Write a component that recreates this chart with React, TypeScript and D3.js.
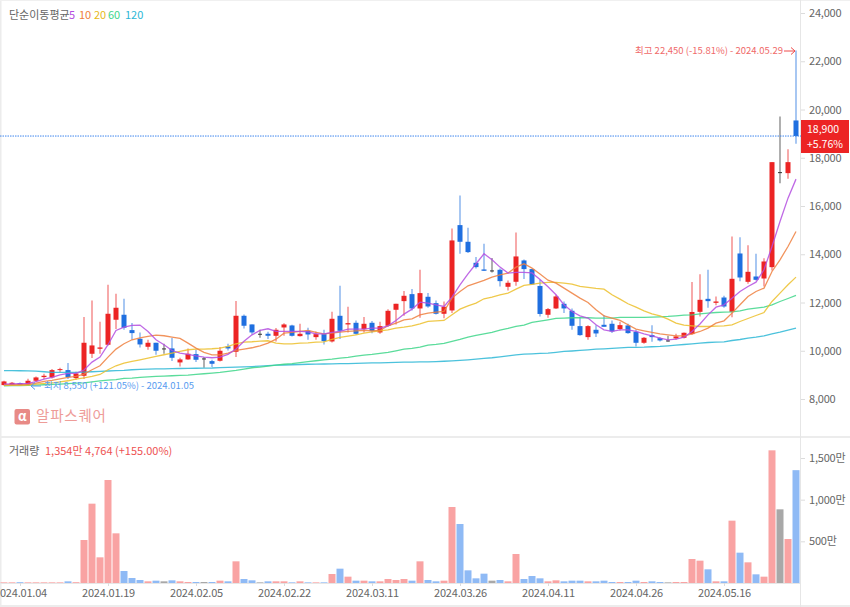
import React, { useEffect, useRef } from "react";
import * as d3 from "d3";

const tickDates = ["2024.01.04", "2024.01.19", "2024.02.05", "2024.02.22", "2024.03.11", "2024.03.26", "2024.04.11", "2024.04.26", "2024.05.16"];
const priceTicks = [8000, 10000, 12000, 14000, 16000, 18000, 20000, 22000, 24000];
const volumeTicks = [500, 1000, 1500];

const opens = [8576,8576,8659,8603,8756,8908,8894,9198,9198,8866,8963,9875,10082,10248,11285,11492,10856,10497,10165,10331,10096,10096,9516,9640,9861,9681,9571,9585,10179,9958,11450,11091,10704,10704,10620,10965,11048,10606,10827,10565,10689,10385,11449,11090,11159,10896,11159,10758,11034,11698,12057,12347,11753,12237,11974,11532,11670,15208,14517,13646,13370,13329,13356,12651,12859,13743,13384,12686,11491,11753,11947,11657,11021,10565,10869,11076,11118,10897,11049,10786,10330,10648,10523,10427,10510,10537,10690,11613,12152,11986,12207,11613,14032,12857,13078,12995,13465,17404,17362,19546];
const closes = [8728,8673,8576,8756,8894,8963,9198,9239,8908,9059,10331,10220,10137,11533,11782,10953,10732,10262,10331,10000,10096,9709,9640,9875,9626,9681,9460,10000,10096,11450,11036,10759,10704,10621,10869,11090,10620,10703,10675,10689,10399,11325,10827,11145,10703,11117,10813,11021,11656,11947,12278,11753,12389,11836,11532,11822,14572,14517,14089,13467,13315,13329,12886,12817,13909,13384,12748,11525,11726,12251,11753,11035,10648,11021,10717,10993,10800,11062,10731,10330,10537,10565,10427,10427,10593,10745,11607,12111,12056,12042,11834,12982,13037,13272,12940,13700,17818,17404,17818,18900];
const highs = [8760,8700,8680,8838,8935,9045,9239,9295,9488,9129,11395,12086,11202,12736,12363,12155,11146,10759,10455,10331,10289,10525,9709,10096,10041,9737,9626,10151,10289,12059,11506,11091,10870,10787,10938,11145,11076,11117,10952,10800,10869,11615,12693,11822,11255,11394,11228,11200,11725,11947,12472,12555,13356,12389,12085,12043,15070,16438,15097,13881,14434,13840,13411,12914,14904,13785,13384,12942,11767,12320,12044,11753,11394,11062,11062,11477,11256,11200,11118,10869,10565,11062,10565,10620,10703,10758,12850,13175,13355,12249,12277,14737,14709,14377,14018,13838,17818,19712,18357,22450];
const lows = [8560,8560,8560,8550,8700,8825,8852,9115,8825,8797,8825,9695,9875,10220,10898,10870,10455,10137,10041,9833,9875,9571,9350,9626,9529,9295,9322,9557,10013,9737,10925,10677,10538,10483,10385,10620,10592,10592,10454,10454,10260,10343,10482,10758,10661,10758,10730,10703,11007,11090,11449,11670,11366,11781,11504,11352,11560,14019,14047,13411,13301,13246,12665,12499,12693,12969,12748,11422,11366,11726,11560,10869,10620,10454,10565,10993,10731,10841,10703,10178,10289,10371,10385,10371,10454,10510,10660,11420,11779,11890,11779,11392,12885,12774,12912,12664,13327,16948,17128,18579];
const volumes = [8,8,10,8,8,8,8,8,20,10,516,952,308,1236,596,144,60,36,20,28,20,32,20,12,12,12,12,28,20,260,48,32,8,20,20,20,8,20,8,8,8,108,172,76,28,28,20,20,48,36,48,28,260,36,20,28,912,708,152,56,112,28,36,20,348,48,84,56,20,32,20,28,28,20,20,28,12,12,12,28,12,20,12,8,12,12,288,268,164,20,20,748,364,248,104,76,1592,884,528,1354];

const ma5 = [8620,8630,8640,8650,8720,8820,8900,9000,9060,9060,9200,9530,9740,10250,10840,10980,11050,11063,10800,10455,10250,10010,9900,9850,9790,9740,9710,9740,9850,10070,10390,10660,10840,10910,10800,10800,10800,10800,10780,10700,10700,10760,10800,10896,10896,10896,10938,10938,11035,11255,11520,11725,12015,11974,11905,11836,12223,12734,13190,13605,14020,13771,13467,13218,13246,13246,13225,12950,12650,12320,11906,11629,11449,11353,11076,10869,10800,10869,10869,10800,10703,10620,10523,10454,10482,10560,10800,11110,11489,11807,11904,12180,12456,12664,12843,13355,14322,15359,16326,17114];
const ma10 = [8600,8600,8600,8610,8659,8728,8770,8838,8894,8935,9032,9212,9377,9737,10068,10290,10455,10538,10594,10649,10621,10566,10511,10317,10110,9930,9833,9833,9903,10013,10068,10124,10207,10317,10480,10730,10758,10800,10841,10758,10703,10730,10772,10800,10827,10841,10827,10841,11035,11145,11283,11325,11490,11560,11601,11629,12182,12458,12693,12803,12914,13052,13149,13218,13467,13605,13425,13180,12925,12804,12597,12389,12182,12002,11698,11449,11353,11256,11076,10897,10828,10758,10703,10662,10620,10620,10701,10798,10936,11143,11240,11558,11904,12249,12456,12594,13286,13769,14322,14944];
const ma20 = [8570,8570,8570,8575,8617,8645,8672,8714,8756,8825,8880,8935,9018,9212,9377,9488,9557,9626,9695,9764,9834,9903,9972,10041,10069,10069,10082,10110,10179,10290,10359,10373,10400,10414,10320,10288,10288,10316,10330,10357,10371,10468,10551,10606,10661,10730,10786,10827,10869,10938,10979,11035,11117,11214,11242,11256,11491,11725,11864,11974,12154,12223,12320,12389,12555,12707,12750,12804,12831,12831,12804,12762,12666,12624,12583,12555,12320,12140,11947,11809,11657,11532,11449,11311,11145,11060,11033,11005,11005,11019,11033,11074,11212,11337,11461,11586,12042,12387,12733,13051];
const ma60 = [8550,8555,8560,8565,8575,8590,8605,8620,8640,8660,8670,8710,8755,8780,8800,8852,8866,8894,8921,8935,8949,8963,8977,8991,9018,9046,9073,9101,9142,9184,9239,9295,9322,9364,9405,9440,9470,9510,9545,9585,9620,9652,9694,9722,9777,9818,9846,9887,9929,9998,10067,10095,10150,10233,10260,10302,10385,10468,10565,10634,10703,10758,10855,10924,11007,11062,11173,11230,11284,11339,11353,11367,11367,11367,11353,11353,11353,11380,11380,11380,11380,11394,11408,11422,11449,11475,11489,11530,11558,11586,11600,11613,11655,11724,11765,11807,11904,12042,12166,12291];
const ma120 = [9180,9175,9170,9165,9155,9130,9100,9105,9100,9100,9115,9130,9145,9160,9175,9185,9212,9225,9235,9245,9250,9255,9265,9270,9275,9280,9285,9300,9310,9320,9330,9345,9365,9385,9400,9410,9420,9430,9440,9445,9450,9460,9465,9470,9480,9490,9495,9500,9510,9520,9525,9530,9535,9540,9550,9565,9580,9600,9625,9650,9680,9710,9750,9790,9830,9860,9874,9888,9902,9935,9971,9990,10012,10040,10068,10080,10095,10115,10136,10143,10150,10165,10178,10205,10233,10259,10287,10314,10342,10356,10370,10425,10466,10521,10563,10618,10701,10770,10853,10936];

const RED = "#ec2424";
const BLUE = "#1f6fe0";
const GRAY = "#333333";

const App: React.FC = () => {
  const svgRef = useRef<SVGSVGElement>(null);
  const width = 850;
  const height = 607;
  const axisX = 801;
  const font = "'Noto Sans CJK KR', 'Noto Sans', sans-serif";

  useEffect(() => {
    const svg = d3.select(svgRef.current);
    svg.selectAll("*").remove();
    svg.style("font-family", font);

    const x = d3.scaleBand<number>().domain(d3.range(closes.length)).range([0, 800]);
    const cx = (i: number) => x(i)! + x.bandwidth() / 2;
    const y = d3.scaleLinear().domain([8000, 24000]).range([399, 13]);
    const yVol = d3.scaleLinear().domain([0, 1500]).range([583, 458]);

    const frame = "#e6e6e6";
    const line = (x1: number, y1: number, x2: number, y2: number, w = 1, c = frame) =>
      svg.append("line").attr("x1", x1).attr("y1", y1).attr("x2", x2).attr("y2", y2)
        .attr("stroke", c).attr("stroke-width", w);
    line(0.5, 0, 0.5, 607, 2, "#ececec");
    line(0, 0.5, 850, 0.5, 1, "#f0f0f0");
    line(0, 437, 850, 437, 2, "#ececec");
    line(0, 606, 850, 606, 2, "#ececec");
    line(axisX - 0.5, 0, axisX - 0.5, 607);
    line(0, 583.5, axisX, 583.5);

    // moving averages under the candles
    const maLine = (values: number[], color: string) => {
      const path = d3.line<number>().x((_, i) => cx(i)).y((d) => y(d));
      svg.append("path").attr("d", path(values)!).attr("fill", "none")
        .attr("stroke", color).attr("stroke-width", 1.3).attr("opacity", 0.85);
    };

    // volume
    closes.forEach((c, i) => {
      const col = c > opens[i] ? "#f9a3a3" : c < opens[i] ? "#8fbaf5" : "#a8a8a8";
      svg.append("rect").attr("x", cx(i) - 3.5).attr("width", 7)
        .attr("y", yVol(volumes[i])).attr("height", 583 - yVol(volumes[i])).attr("fill", col);
    });

    // candles
    closes.forEach((c, i) => {
      const o = opens[i];
      const col = c > o ? RED : c < o ? BLUE : GRAY;
      svg.append("line").attr("x1", cx(i)).attr("x2", cx(i))
        .attr("y1", y(highs[i])).attr("y2", y(lows[i]))
        .attr("stroke", col).attr("stroke-width", 1.4).attr("opacity", 0.55);
      const top = y(Math.max(o, c));
      const h = Math.max(1, Math.abs(y(o) - y(c)));
      svg.append("rect").attr("x", cx(i) - (c === o ? 2 : 2.5)).attr("width", c === o ? 4 : 5)
        .attr("y", top).attr("height", h).attr("fill", col);
    });

    maLine(ma120, "#2db7d6");
    maLine(ma60, "#3ed68a");
    maLine(ma20, "#ecc02c");
    maLine(ma10, "#ee8040");
    maLine(ma5, "#b44fe0");

    // current price line
    line(0, y(closes[99]), axisX, y(closes[99]), 1, "#3f86ee").attr("stroke-dasharray", "1.5 1");

    // axes
    const styleAxis = (g: d3.Selection<SVGGElement, unknown, null, undefined>) => {
      g.select(".domain").remove();
      g.selectAll("line").attr("stroke", "#dcdcdc");
      g.selectAll("text").attr("fill", "#666").attr("font-size", 11).attr("font-family", font).attr("letter-spacing", -0.2);
    };
    svg.append("g").attr("transform", `translate(${axisX},0)`)
      .call(d3.axisRight(y).tickValues(priceTicks).tickFormat(d3.format(",") as any).tickSize(4).tickPadding(4) as any)
      .call(styleAxis as any);
    svg.append("g").attr("transform", `translate(${axisX},0)`)
      .call(d3.axisRight(yVol).tickValues(volumeTicks).tickFormat(((d: number) => `${d3.format(",")(d)}만`) as any).tickSize(4).tickPadding(4) as any)
      .call(styleAxis as any);
    const tickIdx = tickDates.map((_, i) => 2 + i * 11);
    const xAxis = d3.axisBottom(d3.scalePoint<number>().domain(tickIdx).range([cx(tickIdx[0]), cx(tickIdx[tickIdx.length - 1])]))
      .tickFormat((_, i) => tickDates[i]).tickSize(3).tickPadding(3);
    svg.append("g").attr("transform", "translate(0,583)").call(xAxis as any).call(styleAxis as any);

    // legend
    const text = (s: string, tx: number, ty: number, size: number, fill: string) =>
      svg.append("text").attr("x", tx).attr("y", ty).attr("font-size", size).attr("fill", fill)
        .attr("dominant-baseline", "middle").text(s);
    text("단순이동평균", 9, 16, 11, "#666");
    text("5", 69, 16, 11, "#b44fe0");
    text("10", 79, 16, 11, "#ee8040");
    text("20", 94, 16, 11, "#e8b820");
    text("60", 108, 16, 11, "#3ed68a");
    text("120", 125, 16, 11, "#2db7d6");
    text("거래량", 9, 452, 11, "#666");
    text("1,354만 4,764 (+155.00%)", 45, 452, 11, "#ee5252");

    // high / low notes
    text("최고 22,450 (-15.81%) - 2024.05.29", 635, 51, 9.5, "#f06a6a");
    text("최저 8,550 (+121.05%) - 2024.01.05", 44, 386, 9.5, "#5a9cf0");
    const arrow = (x1: number, x2: number, yy: number, c: string) => {
      const d = x2 > x1 ? -1 : 1;
      line(x1, yy, x2, yy, 1, c);
      line(x2, yy, x2 + d * 4, yy - 3.5, 1, c);
      line(x2, yy, x2 + d * 4, yy + 3.5, 1, c);
    };
    arrow(784, 795, 51, "#ee4a4a");
    arrow(41, 31, 386, "#5a9cf0");

    // price tag
    svg.append("rect").attr("x", 801).attr("y", 120).attr("width", 48).attr("height", 33).attr("fill", RED);
    text("18,900", 807, 130, 10.5, "#fff");
    text("+5.76%", 807, 145, 10.5, "#fff");

    // watermark
    svg.append("rect").attr("x", 14.5).attr("y", 409).attr("width", 15.5).attr("height", 15.5).attr("rx", 2).attr("fill", "#e88a86");
    text("α", 18, 417, 13, "#fff").attr("font-weight", 700);
    text("알파스퀘어", 36, 417, 14.5, "#ee9c98").attr("letter-spacing", 0.8);
  }, []);

  return (
    <svg ref={svgRef} width={width} height={height} viewBox={`0 0 ${width} ${height}`}
      style={{ position: "absolute", left: 0, top: 0, background: "#fff" }} />
  );
};

export default App;
